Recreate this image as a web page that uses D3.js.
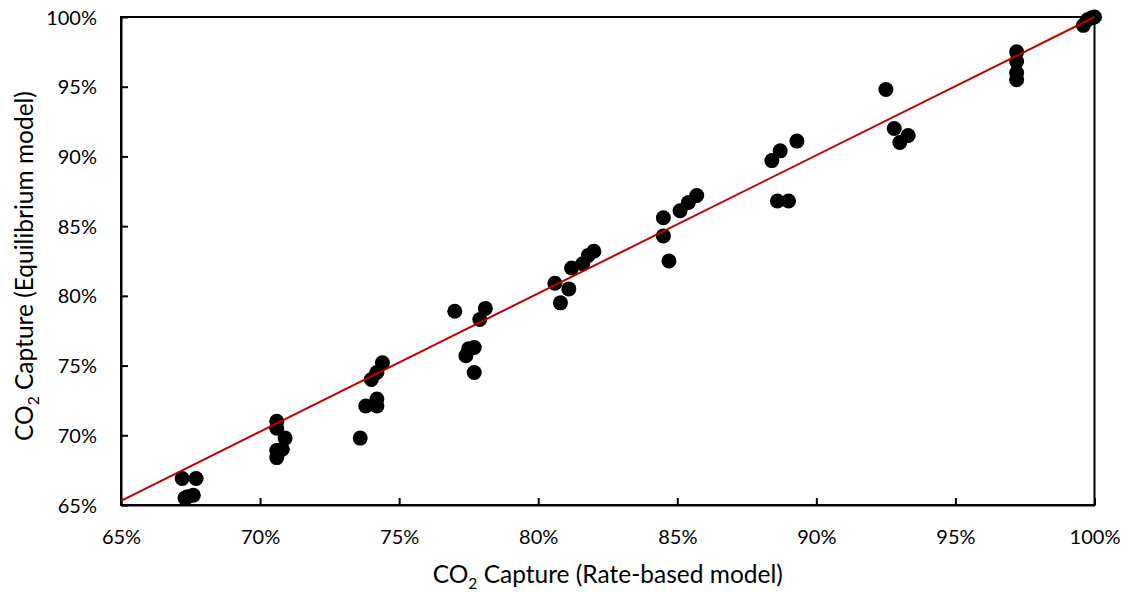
<!DOCTYPE html>
<html>
<head>
<meta charset="utf-8">
<script src="https://cdn.jsdelivr.net/npm/d3@7"></script>
<style>
  html, body { margin: 0; padding: 0; background: #fff; }
  svg text { font-family: Lato, "Open Sans", sans-serif; fill: #000; }
</style>
</head>
<body>
<svg id="chart" width="1125" height="592"></svg>
<script>
// CO2 capture predicted by the rate-based model (x) vs. the equilibrium model (y), in %
const rateBased = [
  67.2, 67.7, 67.4, 67.6, 67.3,
  70.6, 70.6, 70.9, 70.8, 70.6, 70.6,
  73.6, 73.8, 74.2, 74.2, 74.0, 74.2, 74.4,
  77.0, 78.1, 77.9, 77.4, 77.5, 77.7, 77.7,
  80.6, 81.1, 80.8, 81.2, 81.6, 81.8, 82.0,
  84.5, 84.5, 84.7, 85.1, 85.4, 85.7,
  88.4, 88.7, 89.3, 88.6, 89.0,
  92.5, 92.8, 93.3, 93.0,
  97.2, 97.2, 97.2, 97.2,
  99.6, 99.75, 99.9, 100.0
];
const equilibrium = [
  66.9, 66.9, 65.6, 65.7, 65.5,
  71.0, 70.5, 69.8, 69.0, 68.9, 68.4,
  69.8, 72.1, 72.6, 72.1, 74.0, 74.5, 75.2,
  78.9, 79.1, 78.3, 75.7, 76.2, 76.3, 74.5,
  80.9, 80.5, 79.5, 82.0, 82.3, 82.9, 83.2,
  85.6, 84.3, 82.5, 86.1, 86.7, 87.2,
  89.7, 90.4, 91.1, 86.8, 86.8,
  94.8, 92.0, 91.5, 91.0,
  97.5, 96.8, 96.0, 95.5,
  99.4, 99.8, 99.95, 100.0
];
// Linear fit line endpoints (%)
const fitX = [65, 100];
const fitY = [65.3, 100];
// Axis ticks (%)
const xTicks = [65, 70, 75, 80, 85, 90, 95, 100];
const yTicks = [65, 70, 75, 80, 85, 90, 95, 100];

const svg = d3.select("#chart");
const plotLeft = 121, plotRight = 1094.5, plotTop = 17, plotBottom = 505;

const x = d3.scaleLinear().domain([65, 100]).range([plotLeft, plotRight]);
const y = d3.scaleLinear().domain([65, 100]).range([plotBottom, plotTop]);
const fmt = d => d + "%";

// plot frame
svg.append("rect")
  .attr("x", plotLeft).attr("y", plotTop)
  .attr("width", plotRight - plotLeft).attr("height", plotBottom - plotTop)
  .attr("fill", "none").attr("stroke", "#000").attr("stroke-width", 2);

// bottom axis, ticks pointing inward
const xAxis = svg.append("g")
  .attr("transform", `translate(0,${plotBottom})`)
  .call(d3.axisBottom(x).tickValues(xTicks).tickSizeInner(-7).tickSizeOuter(0).tickFormat(fmt));
xAxis.select(".domain").attr("stroke", "#000").attr("stroke-width", 2);
xAxis.selectAll(".tick line").attr("stroke", "#000").attr("stroke-width", 2);
xAxis.selectAll(".tick text")
  .attr("y", 0).attr("dy", "39px")
  .style("font-size", "20px").style("font-family", "Lato, sans-serif").attr("fill", "#000");

// left axis, ticks pointing inward
const yAxis = svg.append("g")
  .attr("transform", `translate(${plotLeft},0)`)
  .call(d3.axisLeft(y).tickValues(yTicks).tickSizeInner(-7).tickSizeOuter(0).tickFormat(fmt));
yAxis.select(".domain").attr("stroke", "#000").attr("stroke-width", 2);
yAxis.selectAll(".tick line").attr("stroke", "#000").attr("stroke-width", 2);
yAxis.selectAll(".tick text")
  .attr("x", -24).attr("dy", "0.35em")
  .style("font-size", "20px").style("font-family", "Lato, sans-serif").attr("fill", "#000");

// data points
svg.append("g")
  .selectAll("circle")
  .data(rateBased.map((v, i) => [v, equilibrium[i]]))
  .join("circle")
  .attr("cx", d => x(d[0]))
  .attr("cy", d => y(d[1]))
  .attr("r", 7.5)
  .attr("fill", "#000");

// fit line
svg.append("path")
  .datum(fitX.map((v, i) => [v, fitY[i]]))
  .attr("d", d3.line().x(d => x(d[0])).y(d => y(d[1])))
  .attr("fill", "none")
  .attr("stroke", "#C00000")
  .attr("stroke-width", 2);

// axis titles
const xt = svg.append("text")
  .attr("x", (plotLeft + plotRight) / 2).attr("y", 583)
  .attr("text-anchor", "middle")
  .style("font-size", "24.5px");
xt.append("tspan").text("CO");
xt.append("tspan").text("2").attr("font-size", "15.5px").attr("dy", "6");
xt.append("tspan").text(" Capture (Rate-based model)").attr("dy", "-6");

const yt = svg.append("text")
  .attr("transform", `translate(33,${(plotTop + plotBottom) / 2 + 5}) rotate(-90)`)
  .attr("text-anchor", "middle")
  .style("font-size", "24.5px");
yt.append("tspan").text("CO");
yt.append("tspan").text("2").attr("font-size", "15.5px").attr("dy", "6");
yt.append("tspan").text(" Capture (Equilibrium model)").attr("dy", "-6");
</script>
</body>
</html>
